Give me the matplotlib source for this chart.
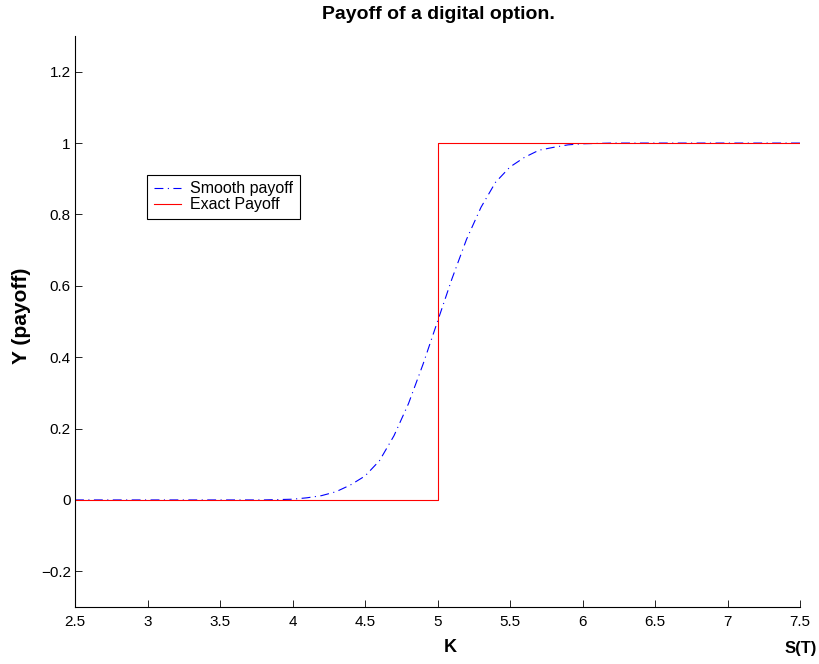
import matplotlib
matplotlib.use("Agg")
import matplotlib.pyplot as plt

plt.rcParams['font.family'] = ['Liberation Sans', 'DejaVu Sans']

# Smooth payoff
smooth_x = [2.5, 3.0, 3.5, 3.8, 3.9, 4.0, 4.1, 4.2, 4.3, 4.4, 4.5, 4.6, 4.7, 4.8, 4.9,
            5.0, 5.1, 5.2, 5.3, 5.4, 5.5, 5.6, 5.7, 5.8, 5.9, 6.0, 6.1, 6.2, 6.5, 7.0, 7.5]
smooth_y = [0.0, 0.0, 0.0, 0.0, 0.001, 0.002, 0.006, 0.012, 0.023, 0.042, 0.067, 0.11,
            0.18, 0.27, 0.38, 0.50, 0.62, 0.73, 0.82, 0.89, 0.933, 0.96, 0.98, 0.988,
            0.995, 0.998, 0.999, 1.0, 1.0, 1.0, 1.0]

# Exact payoff (step at K = 5)
exact_x = [2.5, 5.0, 5.0, 7.5]
exact_y = [0.0, 0.0, 1.0, 1.0]

x_ticks = [2.5, 3, 3.5, 4, 4.5, 5, 5.5, 6, 6.5, 7, 7.5]
x_tick_labels = ['2.5', '3', '3.5', '4', '4.5', '5', '5.5', '6', '6.5', '7', '7.5']
y_ticks = [-0.2, 0, 0.2, 0.4, 0.6, 0.8, 1, 1.2]
y_tick_labels = ['\u22120.2', '0', '0.2', '0.4', '0.6', '0.8', '1', '1.2']

W, H = 819, 664
ax_l, ax_r, ax_t, ax_b = 75, 800, 36, 607

fig = plt.figure(figsize=(W/100, H/100), dpi=100)
ax = fig.add_axes([ax_l/W, 1 - ax_b/H, (ax_r-ax_l)/W, (ax_b-ax_t)/H])

ax.plot(smooth_x, smooth_y, color=(0, 0, 1), lw=0.8,
        linestyle=(0, (8, 4, 1, 4)), label='Smooth payoff')
ax.plot(exact_x, exact_y, color=(1, 0, 0), lw=0.8, label='Exact Payoff')

ax.set_xlim(2.5, 7.5)
ax.set_ylim(-0.3, 1.3)
ax.set_xticks(x_ticks)
ax.set_xticklabels(x_tick_labels)
ax.set_yticks(y_ticks)
ax.set_yticklabels(y_tick_labels)

ax.spines['top'].set_visible(False)
ax.spines['right'].set_visible(False)
for s in ('left', 'bottom'):
    ax.spines[s].set_linewidth(0.8)
ax.tick_params(direction='in', length=5, width=0.6, labelsize=11, colors='black')
ax.tick_params(axis='x', pad=6)
ax.tick_params(axis='y', pad=3)

fig.text(22/W, 1 - 316/H, 'Y (payoff)', rotation=90, ha='center', va='center',
         fontsize=15, fontweight='bold')
fig.text(450/W, 1 - 648/H, 'K', ha='center', va='center', fontsize=13, fontweight='bold')
fig.text(817/W, 1 - 648/H, 'S(T)', ha='right', va='center', fontsize=12, fontweight='bold')
fig.text(438/W, 1 - 19/H, 'Payoff of a digital option.', ha='center', va='baseline',
         fontsize=14, fontweight='bold')

leg = ax.legend(loc='upper left',
                bbox_to_anchor=((147.3-ax_l)/(ax_r-ax_l), (ax_b-175)/(ax_b-ax_t)),
                fontsize=11.5, frameon=True, fancybox=False, framealpha=1,
                edgecolor='black', borderpad=0.4, handlelength=1.7,
                handletextpad=0.6, labelspacing=0.05, borderaxespad=0)
leg.get_frame().set_linewidth(0.8)

fig.savefig('out.png', dpi=100)
